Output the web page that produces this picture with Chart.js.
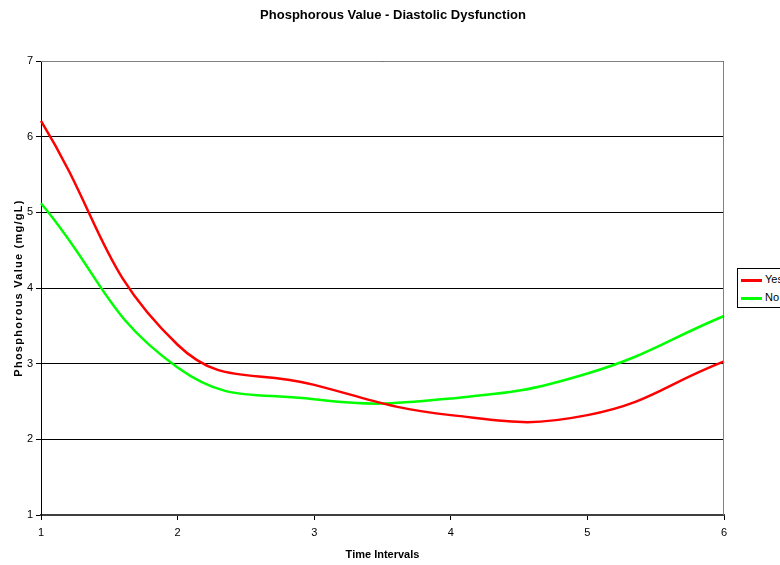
<!DOCTYPE html>
<html>
<head>
<meta charset="utf-8">
<script src="https://cdn.jsdelivr.net/npm/chart.js@4"></script>
<style>
  html, body { margin: 0; padding: 0; background: #fff; overflow: hidden; }
  #wrap { position: relative; width: 780px; height: 565px; }
  #legend { position: absolute; left: 737px; top: 268px; width: 60px; height: 38px; color: #000;
            border: 1px solid #000; background: #fff; font: 11px "Liberation Sans", Arial, sans-serif; }
  .item { position: absolute; left: 3px; height: 14px; line-height: 14px; white-space: nowrap; color: #000; }
  .swatch { display: inline-block; width: 21px; height: 0; border-top: 3px solid; vertical-align: middle; margin-right: 3px; }
</style>
</head>
<body>
<div id="wrap">
  <canvas id="chart" width="780" height="565"></canvas>
  <div id="legend"></div>
</div>
<script>
const timeIntervals = ["1", "2", "3", "4", "5", "6"]
const yesValues = [6.21, 3.25, 2.72, 2.32, 2.32, 3.03]
const noValues = [5.12, 2.95, 2.53, 2.54, 2.87, 3.63]
const seriesNames = ["Yes", "No"]
const seriesColors = ["#ff0000", "#00ff00"]
const chartTitle = "Phosphorous Value - Diastolic Dysfunction"
const yTitle = "Phosphorous Value (mg/gL)"
const xTitle = "Time Intervals"

const FONT = "'Liberation Sans', Arial, sans-serif"

// grey frame around the plot area + main title and spaced y title, like the excel original
const excelBits = {
    id: 'excelBits',
    afterDatasetsDraw(chart) {
        const a = chart.chartArea
        const ctx = chart.ctx
        ctx.save()
        ctx.strokeStyle = '#808080'
        ctx.lineWidth = 1
        ctx.beginPath()
        ctx.moveTo(a.left, a.top + 0.5)
        ctx.lineTo(a.right - 0.5, a.top + 0.5)
        ctx.lineTo(a.right - 0.5, a.bottom)
        ctx.stroke()

        ctx.fillStyle = '#000'
        ctx.textAlign = 'center'
        ctx.textBaseline = 'middle'
        ctx.font = 'bold 13px ' + FONT
        ctx.fillText(chartTitle, 393, 15)

        ctx.translate(19, (a.top + a.bottom) / 2)
        ctx.rotate(-Math.PI / 2)
        ctx.font = 'bold 11px ' + FONT
        ctx.letterSpacing = '1.25px'
        ctx.fillText(yTitle, 0, 0)
        ctx.restore()
    }
}

document.addEventListener('DOMContentLoaded', function () {
    const ctx = document.getElementById('chart').getContext('2d')
    const chart = new Chart(ctx, {
        type: 'line',
        data: {
            labels: timeIntervals,
            datasets: [{
                label: seriesNames[0],
                data: yesValues,
                borderColor: seriesColors[0],
                borderWidth: 2.5,
                pointRadius: 0,
                tension: 0.45
            }, {
                label: seriesNames[1],
                data: noValues,
                borderColor: seriesColors[1],
                borderWidth: 2.5,
                pointRadius: 0,
                tension: 0.45
            }]
        },
        options: {
            responsive: false,
            animation: false,
            layout: { padding: { left: 0, right: 56, top: 61, bottom: 0 } },
            plugins: {
                legend: { display: false },
                tooltip: { enabled: false },
                title: { display: false }
            },
            scales: {
                x: {
                    offset: false,
                    grid: { drawOnChartArea: false, color: '#000', tickLength: 5 },
                    border: { color: '#404040', width: 2 },
                    ticks: { color: '#000', font: { family: FONT, size: 11 }, padding: 6, maxRotation: 0 },
                    title: {
                        display: true,
                        text: xTitle,
                        color: '#000',
                        font: { family: FONT, size: 11, weight: 'bold' },
                        padding: { top: 0, bottom: 3 }
                    },
                    afterFit: scale => { scale.height = 50 }
                },
                y: {
                    min: 1,
                    max: 7,
                    grid: { color: '#000', tickLength: 5 },
                    border: { color: '#000', width: 1 },
                    ticks: { stepSize: 1, color: '#000', font: { family: FONT, size: 11 }, padding: 3 },
                    afterFit: scale => { scale.width = 41 }
                }
            }
        },
        plugins: [excelBits]
    })

    // legend box on the right, cut off by the edge like the original
    const legend = document.getElementById('legend')
    chart.data.datasets.forEach((ds, i) => {
        const item = document.createElement('div')
        item.className = 'item'
        item.style.top = (3 + i * 18) + 'px'
        item.innerHTML = '<span class="swatch" style="border-color:' + ds.borderColor + '"></span>' + ds.label
        legend.appendChild(item)
    })
})
</script>
</body>
</html>
